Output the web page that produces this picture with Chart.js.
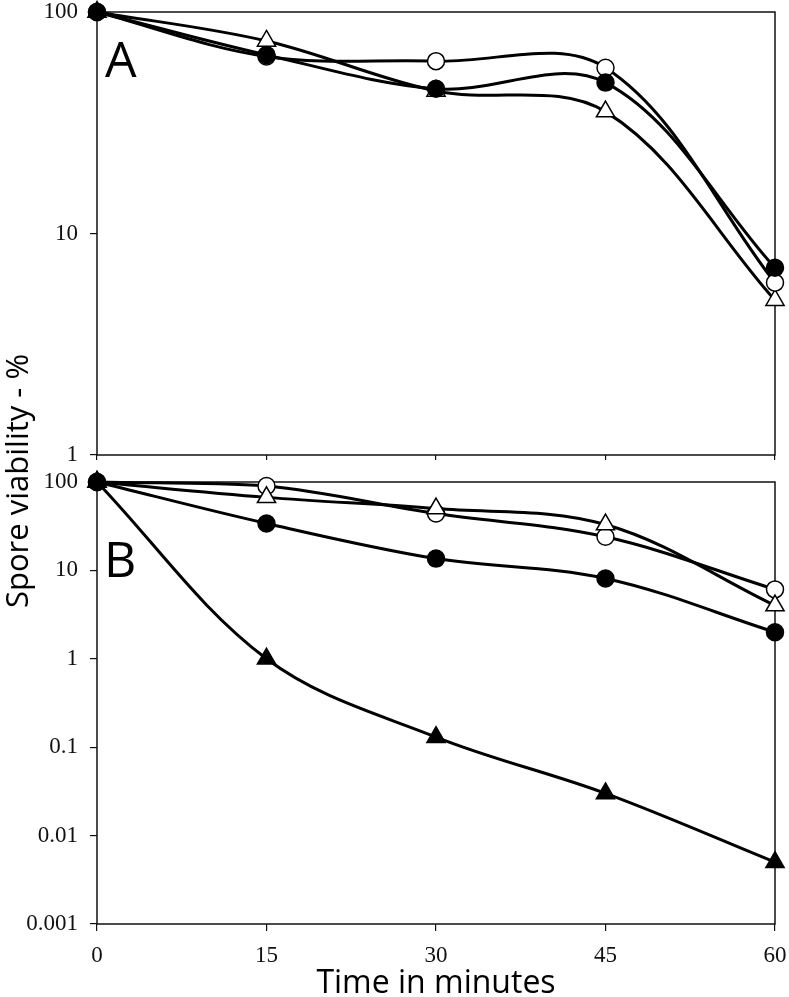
<!DOCTYPE html>
<html>
<head>
<meta charset="utf-8">
<script src="https://cdn.jsdelivr.net/npm/chart.js@4.4.1/dist/chart.umd.min.js"></script>
<style>
  body { margin: 0; background: #fff; }
  #wrap { position: relative; width: 789px; height: 997px; overflow: hidden; }
  canvas { position: absolute; left: 0; }
  #chartA { top: 0; }
  #chartB { top: 470px; }
  #ylabel {
    position: absolute; left: 16px; top: 481px;
    transform: translate(-50%, -50%) rotate(-90deg);
    font: 31px "Open Sans"; color: #000; white-space: nowrap;
  }
</style>
</head>
<body>
<div id="wrap">
  <canvas id="chartA" width="789" height="470"></canvas>
  <canvas id="chartB" width="789" height="527"></canvas>
  <div id="ylabel">Spore viability - %</div>
</div>
<script>
// ---------------- DATA ----------------

const timeMin = [0, 15, 30, 45, 60];
const xTicks = [0, 15, 30, 45, 60];
const yTicksA = [1, 10, 100];
const yTicksB = [0.001, 0.01, 0.1, 1, 10, 100];

// panel A
const aOpenTriangle = [100, 74, 44, 35.5, 5];
const aOpenCircle = [100, 63, 60, 56, 6];
const aFilledCircle = [100, 64, 45, 48, 7];

// panel B
const bOpenCircle = [100, 90, 44, 24, 6.1];
const bOpenTriangle = [100, 67, 50, 33, 4];
const bFilledTriangle = [100, 1, 0.13, 0.03, 0.005];
const bFilledCircle = [100, 34, 13.6, 8.1, 2];

// ---------------- HELPERS ----------------

const tickFont = { family: "Liberation Serif", size: 23 };

function series(values, shape, filled) {
  return {
    data: values.map((v, i) => ({ x: timeMin[i], y: v })),
    borderColor: "#000",
    borderWidth: 3,
    tension: 0.35,
    pointStyle: shape,
    pointRadius: shape === "triangle" ? 10.5 : 8.5,
    pointBackgroundColor: filled ? "#000" : "#fff",
    pointBorderColor: "#000",
    pointBorderWidth: 1.5,
    clip: false
  };
}

// box round the plot area
const framePlugin = {
  id: "frame",
  beforeDatasetsDraw(chart) {
    const { ctx, chartArea: a } = chart;
    ctx.save();
    ctx.strokeStyle = "#111";
    ctx.lineWidth = 1.5;
    ctx.strokeRect(a.left, a.top, a.right - a.left, a.bottom - a.top);
    ctx.restore();
  }
};

// big panel letter
const letterPlugin = {
  id: "letter",
  beforeDatasetsDraw(chart, args, opts) {
    const ctx = chart.ctx;
    ctx.save();
    ctx.font = '50px "Open Sans"';
    ctx.fillStyle = "#000";
    ctx.textBaseline = "alphabetic";
    ctx.fillText(opts.text, opts.x, opts.y);
    ctx.restore();
  }
};

function makePanel(id, datasets, yTicks, cfg) {
  return new Chart(document.getElementById(id), {
    type: "line",
    data: { datasets },
    options: {
      responsive: false,
      animation: false,
      layout: { padding: { left: 0, right: 14, top: cfg.top, bottom: 0 } },
      plugins: {
        legend: { display: false },
        tooltip: { enabled: false },
        letter: cfg.letter
      },
      scales: {
        x: {
          type: "linear",
          min: 0,
          max: 60,
          afterBuildTicks: s => { s.ticks = xTicks.map(v => ({ value: v })); },
          afterFit: s => {
            s.height = cfg.xHeight;
            s.paddingLeft = 0;
            s.paddingRight = 0;
          },
          border: { display: false },
          grid: {
            drawOnChartArea: false,
            drawTicks: true,
            tickLength: cfg.xTickLen,
            color: "#111",
            lineWidth: 1.2
          },
          ticks: {
            display: cfg.xLabels,
            font: tickFont,
            color: "#111",
            padding: 11,
            maxRotation: 0
          },
          title: {
            display: cfg.xLabels,
            text: "Time in minutes",
            font: { family: "Open Sans", size: 32 },
            color: "#000",
            padding: { top: 0, bottom: -6 }
          }
        },
        y: {
          type: "logarithmic",
          min: yTicks[0],
          max: yTicks[yTicks.length - 1],
          afterBuildTicks: s => { s.ticks = yTicks.map(v => ({ value: v })); },
          afterFit: s => {
            s.width = 97;
            s.paddingTop = 0;
            s.paddingBottom = 0;
          },
          border: { display: false },
          grid: {
            drawOnChartArea: false,
            drawTicks: true,
            tickLength: 7,
            color: "#111",
            lineWidth: 1.2
          },
          ticks: {
            callback: v => String(v),
            font: tickFont,
            color: "#111",
            padding: 12,
            autoSkip: false
          }
        }
      }
    },
    plugins: [framePlugin, letterPlugin]
  });
}

// ---------------- PANELS ----------------
// first dataset is drawn on top

makePanel("chartA", [
  series(aFilledCircle, "circle", true),
  series(aOpenCircle, "circle", false),
  series(aOpenTriangle, "triangle", false)
], yTicksA, {
  top: 11, xHeight: 15, xTickLen: 5, xLabels: false,
  letter: { text: "A", x: 105, y: 77 }
});

makePanel("chartB", [
  series(bFilledCircle, "circle", true),
  series(bFilledTriangle, "triangle", true),
  series(bOpenTriangle, "triangle", false),
  series(bOpenCircle, "circle", false)
], yTicksB, {
  top: 10, xHeight: 73, xTickLen: 7, xLabels: true,
  letter: { text: "B", x: 104, y: 107 }
});
</script>
</body>
</html>
